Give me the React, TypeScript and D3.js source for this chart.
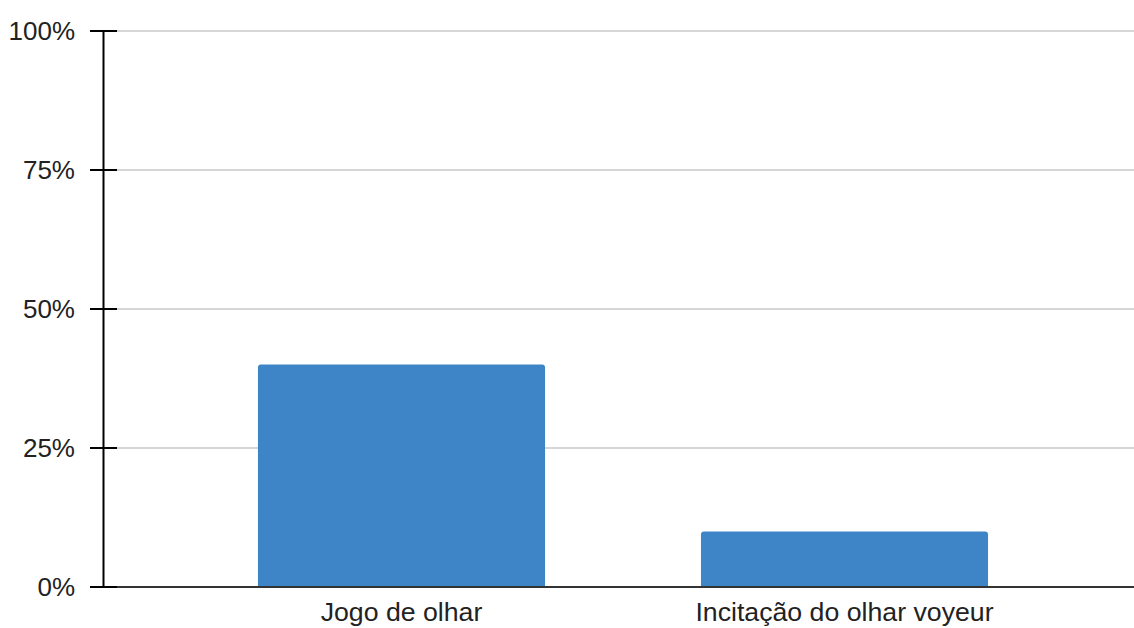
import React from "react";
import * as d3 from "d3";

const categories = ["Jogo de olhar", "Incitação do olhar voyeur"];
const values = [0.4, 0.1];
const yTicks = [0, 0.25, 0.5, 0.75, 1];
const yTickLabels = ["0%", "25%", "50%", "75%", "100%"];

const W = 1134;
const H = 628;

export default function App() {
  const y = d3.scaleLinear().domain([0, 1]).range([587, 31]);
  const x = d3
    .scaleBand<string>()
    .domain(categories)
    .range([180, 1066])
    .paddingInner(0.352)
    .paddingOuter(0.176);
  const axisX = 103.5;
  const font = "'Liberation Sans', Arial, sans-serif";
  const bw = x.bandwidth();
  const r = 3;
  const barPath = (cx: number, top: number, bottom: number) => {
    const w = bw;
    return `M${cx},${bottom}V${top + r}Q${cx},${top} ${cx + r},${top}H${cx + w - r}Q${cx + w},${top} ${cx + w},${top + r}V${bottom}Z`;
  };
  return (
    <svg
      width={W}
      height={H}
      style={{ position: "absolute", left: 0, top: 0, background: "#fff" }}
    >
      {yTicks.map((t, i) => (
        <g key={i}>
          {t > 0 && (
            <line x1={117} x2={W} y1={y(t)} y2={y(t)} stroke="#c8c8c8" strokeWidth={1.5} />
          )}
          <line x1={90} x2={117} y1={y(t)} y2={y(t)} stroke="#000" strokeWidth={2} />
          <text
            x={75}
            y={y(t)}
            dy="0.35em"
            textAnchor="end"
            fontFamily={font}
            fontSize={26}
            fill="#222"
          >
            {yTickLabels[i]}
          </text>
        </g>
      ))}
      {categories.map((c, i) => (
        <path key={c} d={barPath(x(c)!, y(values[i]), y(0))} fill="#3d85c6" />
      ))}
      <line x1={117} x2={W} y1={y(0)} y2={y(0)} stroke="#333" strokeWidth={2} />
      <line x1={axisX} x2={axisX} y1={y(1)} y2={y(0)} stroke="#000" strokeWidth={2} />
      {categories.map((c) => (
        <text
          key={c}
          x={x(c)! + bw / 2}
          y={621}
          textAnchor="middle"
          fontFamily={font}
          fontSize={26.7}
          fill="#222"
        >
          {c}
        </text>
      ))}
    </svg>
  );
}
